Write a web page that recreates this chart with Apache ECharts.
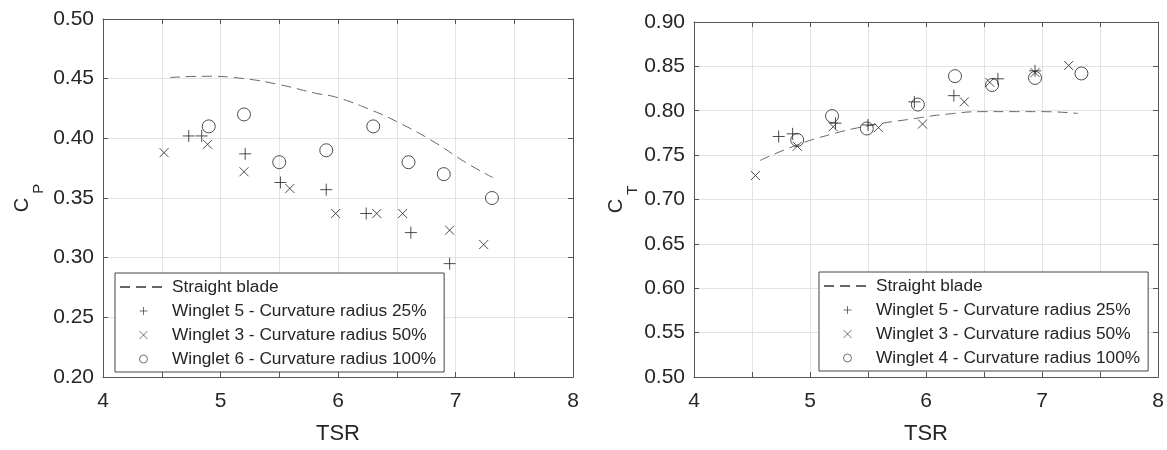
<!DOCTYPE html>
<html><head><meta charset="utf-8">
<script src="https://cdn.jsdelivr.net/npm/echarts@6/dist/echarts.min.js"></script>
<style>html,body{margin:0;padding:0;background:#fff}#c{width:1167px;height:450px}</style>
</head><body><div id="c"></div>
<script>
// ---- Data ----
const tsrMin = 4, tsrMax = 8, tsrStep = 0.5;
const cpMin = 0.20, cpMax = 0.50, cpStep = 0.05;
const ctMin = 0.50, ctMax = 0.90, ctStep = 0.05;

// Left chart: power coefficient Cp
const cpStraightX = [4.57, 4.88, 5.20, 5.50, 5.80, 6.00, 6.30, 6.50, 6.80, 7.10, 7.32];
const cpStraightY = [0.451, 0.452, 0.450, 0.445, 0.438, 0.434, 0.423, 0.414, 0.398, 0.379, 0.367];
const cpW5X = [4.73, 4.84, 5.21, 5.51, 5.90, 6.24, 6.62, 6.95];
const cpW5Y = [0.402, 0.402, 0.387, 0.363, 0.357, 0.337, 0.321, 0.295];
const cpW3X = [4.52, 4.89, 5.20, 5.59, 5.98, 6.33, 6.55, 6.95, 7.24];
const cpW3Y = [0.388, 0.395, 0.372, 0.358, 0.337, 0.337, 0.337, 0.323, 0.311];
const cpW6X = [4.90, 5.20, 5.50, 5.90, 6.30, 6.60, 6.90, 7.31];
const cpW6Y = [0.410, 0.420, 0.380, 0.390, 0.410, 0.380, 0.370, 0.350];

// Right chart: thrust coefficient Ct
const ctStraightX = [4.57, 4.88, 5.17, 5.50, 5.89, 6.17, 6.50, 6.75, 7.00, 7.31];
const ctStraightY = [0.744, 0.761, 0.773, 0.783, 0.791, 0.796, 0.799, 0.799, 0.799, 0.797];
const ctW5X = [4.73, 4.85, 5.22, 5.50, 5.90, 6.24, 6.62, 6.94];
const ctW5Y = [0.771, 0.774, 0.786, 0.784, 0.810, 0.817, 0.836, 0.845];
const ctW3X = [4.53, 4.89, 5.20, 5.59, 5.97, 6.33, 6.55, 6.94, 7.23];
const ctW3Y = [0.727, 0.760, 0.782, 0.781, 0.785, 0.810, 0.832, 0.843, 0.851];
const ctW4X = [4.89, 5.19, 5.49, 5.93, 6.25, 6.57, 6.94, 7.34];
const ctW4Y = [0.767, 0.794, 0.780, 0.807, 0.839, 0.829, 0.837, 0.842];

const nameStraight = 'Straight blade';
const nameW5 = 'Winglet 5 - Curvature radius 25%';
const nameW3 = 'Winglet 3 - Curvature radius 50%';
const nameW6 = 'Winglet 6 - Curvature radius 100%';
const nameW4 = 'Winglet 4 - Curvature radius 100%';

// ---- Helpers ----
const zip = (xs, ys) => xs.map((x, i) => [x, ys[i]]);
const FONT = "'Liberation Sans', Arial, sans-serif";
const TXT = '#262626';
const AXC = '#555';
const GRIDC = '#e3e3e3';
const PLUS = 'path://M0,5L10,5M5,0L5,10';
const CROSS = 'path://M0,0L10,10M10,0L0,10';

function xAx(grid, pos) {
  const main = pos === 'bottom';
  return {
    type: 'value', gridIndex: grid, position: pos, min: tsrMin, max: tsrMax, interval: tsrStep,
    name: main ? 'TSR' : '', nameLocation: 'middle', nameGap: 46,
    nameTextStyle: {fontFamily: FONT, fontSize: 22, color: TXT},
    axisLine: {show: true, onZero: false, lineStyle: {color: AXC, width: 1}},
    axisTick: {show: true, inside: true, length: 5, lineStyle: {color: AXC}},
    axisLabel: {show: main, margin: 14, fontFamily: FONT, fontSize: 21, color: TXT,
      formatter: v => (Math.abs(v - Math.round(v)) < 1e-6 ? String(Math.round(v)) : '')},
    splitLine: {show: main, lineStyle: {color: GRIDC, width: 1}}
  };
}
function yAx(grid, pos, mn, mx, st, sub, gap) {
  const main = pos === 'left';
  return {
    type: 'value', gridIndex: grid, position: pos, min: mn, max: mx, interval: st,
    name: main ? '{c|C}{s|' + sub + '}' : '', nameLocation: 'middle', nameRotate: 90, nameGap: gap,
    nameTextStyle: {fontFamily: FONT, color: TXT, rich: {
      c: {fontFamily: FONT, fontSize: 20, lineHeight: 20, verticalAlign: 'top', color: TXT},
      s: {fontFamily: FONT, fontSize: 15, lineHeight: 34, verticalAlign: 'bottom', padding: [0, 0, 0, 4], color: TXT}
    }},
    axisLine: {show: true, onZero: false, lineStyle: {color: AXC, width: 1}},
    axisTick: {show: true, inside: true, length: 5, lineStyle: {color: AXC}},
    axisLabel: {show: main, margin: 9, fontFamily: FONT, fontSize: 21, color: TXT,
      formatter: v => v.toFixed(2)},
    splitLine: {show: main, lineStyle: {color: GRIDC, width: 1}}
  };
}
function lineS(name, xi, yi, data) {
  return {type: 'line', name, xAxisIndex: xi, yAxisIndex: yi, data, smooth: true,
    symbol: 'none', showSymbol: false, z: 2,
    lineStyle: {color: '#666', width: 1, type: [10, 6]}, itemStyle: {color: '#666', opacity: 0}};
}
function scatS(name, xi, yi, data, symbol, size) {
  return {type: 'scatter', name, xAxisIndex: xi, yAxisIndex: yi, data, symbol, symbolSize: size, z: 3,
    itemStyle: {color: 'none', borderColor: '#222', borderWidth: 1}};
}
function legend(left, top, names) {
  return {
    left, top, orient: 'vertical', selectedMode: false,
    data: names.map((n, i) => i === 0
      ? {name: n, itemStyle: {opacity: 0}}
      : {name: n, itemStyle: {color: 'none', borderColor: '#222', borderWidth: 0.8}}),
    itemWidth: 47, itemHeight: 8, itemGap: 6, padding: [5, 8, 4, 4],
    borderColor: '#444', borderWidth: 1, backgroundColor: '#fff',
    textStyle: {fontFamily: FONT, fontSize: 17.3, lineHeight: 18, color: TXT}
  };
}

const option = {
  animation: false,
  backgroundColor: '#fff',
  grid: [
    {left: 103, top: 19, width: 470, height: 367},
    {left: 694, top: 22, width: 464, height: 360}
  ],
  xAxis: [xAx(0, 'bottom'), xAx(0, 'top'), xAx(1, 'bottom'), xAx(1, 'top')],
  yAxis: [
    yAx(0, 'left', cpMin, cpMax, cpStep, 'P', 57), yAx(0, 'right', cpMin, cpMax, cpStep, '', 0),
    yAx(1, 'left', ctMin, ctMax, ctStep, 'T', 54), yAx(1, 'right', ctMin, ctMax, ctStep, '', 0)
  ],
  legend: [
    legend(115, 273, [nameStraight, nameW5, nameW3, nameW6]),
    legend(819, 272, [nameStraight, nameW5, nameW3, nameW4])
  ],
  series: [
    lineS(nameStraight, 0, 0, zip(cpStraightX, cpStraightY)),
    scatS(nameW5, 0, 0, zip(cpW5X, cpW5Y), PLUS, 12),
    scatS(nameW3, 0, 0, zip(cpW3X, cpW3Y), CROSS, 9),
    scatS(nameW6, 0, 0, zip(cpW6X, cpW6Y), 'circle', 13),
    lineS(nameStraight, 2, 2, zip(ctStraightX, ctStraightY)),
    scatS(nameW5, 2, 2, zip(ctW5X, ctW5Y), PLUS, 12),
    scatS(nameW3, 2, 2, zip(ctW3X, ctW3Y), CROSS, 9),
    scatS(nameW4, 2, 2, zip(ctW4X, ctW4Y), 'circle', 13)
  ]
};
const chart = echarts.init(document.getElementById('c'), null, {renderer: 'canvas'});
chart.setOption(option);
</script></body></html>
